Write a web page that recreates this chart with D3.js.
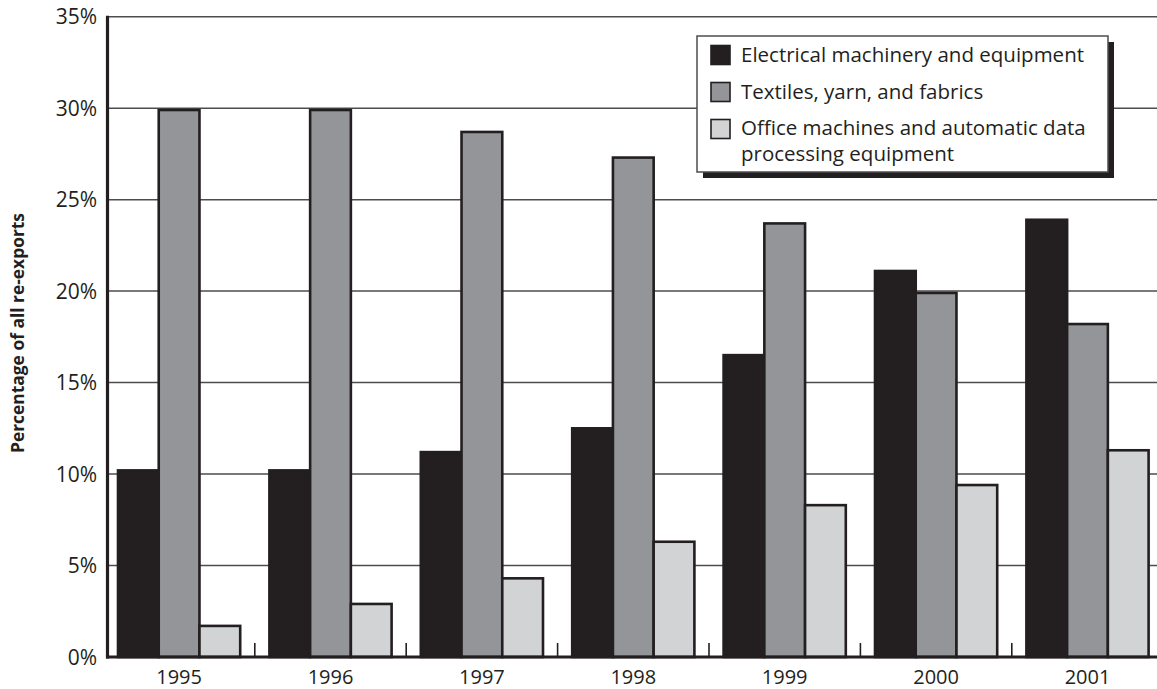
<!DOCTYPE html>
<html>
<head>
<meta charset="utf-8">
<script src="https://cdn.jsdelivr.net/npm/d3@7"></script>
<style>
  html, body { margin: 0; padding: 0; background: #fff; }
  svg { display: block; }
  text { font-family: "Open Sans", "DejaVu Sans", sans-serif; fill: #231f20; }
</style>
</head>
<body>
<svg id="chart" width="1157" height="689"></svg>
<script>
// ---- Data ----
const years = ["1995", "1996", "1997", "1998", "1999", "2000", "2001"];
const seriesNames = [
  "Electrical machinery and equipment",
  "Textiles, yarn, and fabrics",
  "Office machines and automatic data processing equipment"
];
const electrical = [10.2, 10.2, 11.2, 12.5, 16.5, 21.1, 23.9];
const textiles   = [29.9, 29.9, 28.7, 27.3, 23.7, 19.9, 18.2];
const office     = [1.7, 2.9, 4.3, 6.3, 8.3, 9.4, 11.3];
const yTicks = [0, 5, 10, 15, 20, 25, 30, 35];
const yTickLabels = ["0%", "5%", "10%", "15%", "20%", "25%", "30%", "35%"];
const yTitle = "Percentage of all re-exports";
const legendLines = [
  ["Electrical machinery and equipment"],
  ["Textiles, yarn, and fabrics"],
  ["Office machines and automatic data", "processing equipment"]
];

const seriesValues = [electrical, textiles, office];
const colors = ["#231f20", "#939598", "#d1d3d4"];
const ink = "#231f20";

const svg = d3.select("#chart");
const W = 1157, H = 689;

const axisX = 107.5;
const y = d3.scaleLinear().domain([0, 35]).range([657, 16.7]);
const x0 = d3.scaleBand().domain(years).range([103.4, 103.4 + 7 * 151.4]).padding(0);
const x1 = d3.scaleBand().domain(d3.range(3)).range([14.6, x0.bandwidth() - 14.6]).padding(0);

// gridlines
svg.append("g").selectAll("line")
  .data(yTicks.filter(t => t > 0))
  .join("line")
  .attr("x1", axisX).attr("x2", W)
  .attr("y1", d => y(d)).attr("y2", d => y(d))
  .attr("stroke", "#4d4d4f").attr("stroke-width", 1.5);

// x ticks at group boundaries
svg.append("g").selectAll("line")
  .data(years.slice(1))
  .join("line")
  .attr("x1", d => x0(d)).attr("x2", d => x0(d))
  .attr("y1", y(0)).attr("y2", y(0) - 14)
  .attr("stroke", ink).attr("stroke-width", 1.6);

// bars
const rows = [];
years.forEach((yr, i) => seriesValues.forEach((vals, s) => rows.push({ yr, s, v: vals[i] })));
svg.append("g").selectAll("rect")
  .data(rows)
  .join("rect")
  .attr("x", d => x0(d.yr) + x1(d.s))
  .attr("width", x1.bandwidth())
  .attr("y", d => y(d.v))
  .attr("height", d => y(0) - y(d.v))
  .attr("fill", d => colors[d.s])
  .attr("stroke", ink)
  .attr("stroke-width", 2.6);

// axes lines
svg.append("line").attr("x1", axisX).attr("x2", axisX).attr("y1", y(35) - 1).attr("y2", y(0) + 1.5)
  .attr("stroke", ink).attr("stroke-width", 3.2);
svg.append("line").attr("x1", axisX - 1.5).attr("x2", W).attr("y1", y(0)).attr("y2", y(0))
  .attr("stroke", ink).attr("stroke-width", 3.2);

// y tick labels
svg.append("g").selectAll("text")
  .data(yTicks)
  .join("text")
  .attr("x", 97).attr("y", d => y(d))
  .attr("dy", "0.36em")
  .attr("text-anchor", "end")
  .attr("font-size", 21)
  .text((d, i) => yTickLabels[i]);

// x labels
svg.append("g").selectAll("text")
  .data(years)
  .join("text")
  .attr("x", d => x0(d) + x0.bandwidth() / 2)
  .attr("y", 684)
  .attr("text-anchor", "middle")
  .attr("font-size", 20)
  .text(d => d);

// y title
svg.append("text")
  .attr("transform", "translate(24,333) rotate(-90)")
  .attr("text-anchor", "middle")
  .attr("font-size", 17.4)
  .attr("font-weight", "bold")
  .text(yTitle);

// legend
const lg = svg.append("g");
const lx = 697, ly = 36, lw = 411, lh = 136;
lg.append("rect").attr("x", lx + 6).attr("y", ly + 6).attr("width", lw).attr("height", lh).attr("fill", ink);
lg.append("rect").attr("x", lx).attr("y", ly).attr("width", lw).attr("height", lh)
  .attr("fill", "#fff").attr("stroke", "#4d4d4f").attr("stroke-width", 1.5);
const rowY = [55, 92, 128];
legendLines.forEach((lines, i) => {
  lg.append("rect").attr("x", 711).attr("y", (i === 2 ? 129 : rowY[i]) - 9.5).attr("width", 19).attr("height", 19)
    .attr("fill", colors[i]).attr("stroke", ink).attr("stroke-width", 1.6);
  lines.forEach((t, j) => {
    lg.append("text").attr("x", 741).attr("y", rowY[i] + j * 26).attr("dy", "0.36em")
      .attr("font-size", 20.5).text(t);
  });
});
</script>
</body>
</html>
